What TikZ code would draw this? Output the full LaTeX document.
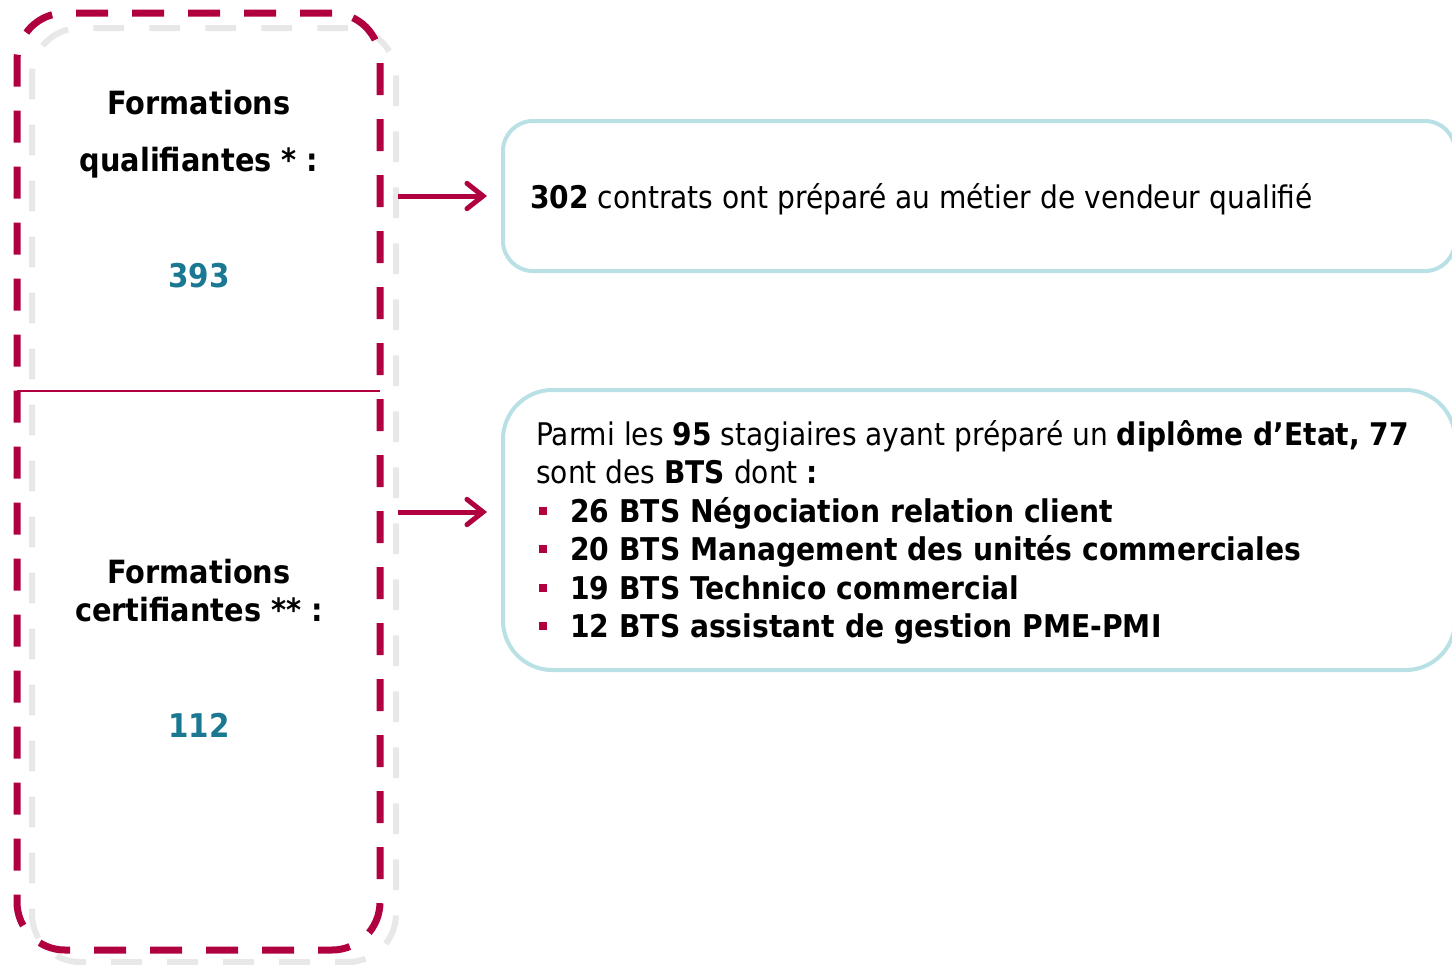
\documentclass[tikz,border=0pt]{standalone}
\usepackage{fontspec}
\setmainfont{DejaVu Sans Condensed}
\usetikzlibrary{arrows.meta,calc}
\definecolor{crim}{RGB}{176,0,64}
\definecolor{lgray}{RGB}{232,232,232}
\definecolor{lteal}{RGB}{185,225,229}
\definecolor{tealnum}{RGB}{26,120,146}
\begin{document}
\begin{tikzpicture}[x=0.75pt,y=-0.75pt,
  grayframe/.style={draw=lgray, line width=4.5pt, rounded corners=36pt, dash pattern=on 23pt off 19pt, minimum width=273pt, minimum height=700.5pt, inner sep=0, outer sep=0},
  redframe/.style={draw=crim, line width=5.25pt, rounded corners=36pt, dash pattern=on 24pt off 18pt, minimum width=272.25pt, minimum height=702.75pt, inner sep=0, outer sep=0},
  tealbox/.style={draw=lteal, line width=3pt, minimum width=714pt, inner sep=0, outer sep=0},
  lbl/.style={font=\bfseries\fontsize{24}{28}\selectfont, anchor=base, inner sep=0},
  num/.style={font=\bfseries\fontsize{24.5}{28}\selectfont, text=tealnum, anchor=base, inner sep=0},
  txt/.style={font=\fontsize{23.4}{28}\selectfont, anchor=base west, inner sep=0},
  btxt/.style={font=\bfseries\fontsize{23.5}{28}\selectfont, anchor=base west, inner sep=0},
  bul/.style={fill=crim, minimum size=6pt, inner sep=0},
  arr/.style={draw=crim, line width=3.75pt, -{Straight Barb[length=12pt,width=19pt,line cap=round]}}
]
\useasboundingbox (0,0) rectangle (1452,964);
\clip (0,0) rectangle (1452,964);
% frames
\node[grayframe] (frameG) at (214,495) {};
\node[redframe] (frameR) at (198.5,481.5) {};
\coordinate (divy) at (0,391);
\draw[crim, line width=1.5pt] (frameR.west |- divy) -- (frameR.east |- divy);
% left labels
\node[lbl] (f1) at (199,114) {Formations};
\node[lbl] (q1) at (199,171) {qualifiantes * :};
\node[num] (n1) at (199,287) {393};
\node[lbl] (f2) at (199,583) {Formations};
\node[lbl] (c2) at (199,621) {certifiantes ** :};
\node[num] (n2) at (199,737) {112};
% right boxes
\node[tealbox, minimum height=112.5pt, rounded corners=22.5pt] (boxA) at (979,196) {};
\node[tealbox, minimum height=210pt, rounded corners=37pt] (boxB) at (979,530) {};
% texts
\node[txt] (tA) at (530,208) {\textbf{302} contrats ont préparé au métier de vendeur qualifié};
\node[txt] (tB1) at (536,445) {Parmi les \textbf{95} stagiaires ayant préparé un \textbf{diplôme d’Etat, 77}};
\node[txt] (tB2) at (536,483) {sont des \textbf{BTS} dont \textbf{:}};
\node[bul] (u1) at (543,511) {};
\node[btxt] (b1) at (570,522) {26 BTS Négociation relation client};
\node[bul] (u2) at (543,549) {};
\node[btxt] (b2) at (570,560) {20 BTS Management des unités commerciales};
\node[bul] (u3) at (543,588) {};
\node[btxt] (b3) at (570,599) {19 BTS Technico commercial};
\node[bul] (u4) at (543,626) {};
\node[btxt] (b4) at (570,637) {12 BTS assistant de gestion PME-PMI};
% arrows
\draw[arr] ($(frameR.east |- boxA.west)+(18,0)$) -- ($(boxA.west)+(-16,0)$);
\draw[arr] ($(frameR.east)+(18,30.5)$) -- ($(boxB.west)+(-16,-18)$);
\end{tikzpicture}
\end{document}
